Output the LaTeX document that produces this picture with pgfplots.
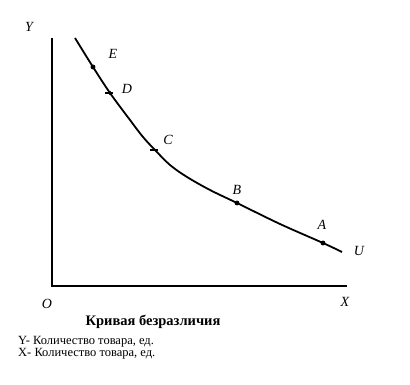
\documentclass[border=0pt]{standalone}
\usepackage{fontspec}
\setmainfont{Liberation Serif}
\usepackage{pgfplots}
\pgfplotsset{compat=1.18}

\begin{document}
\begin{tikzpicture}
\begin{axis}[
  x=1pt, y=1pt,
  xmin=0, xmax=410, ymin=0, ymax=385,
  hide axis, clip=false,
  scale only axis,
]
% page frame
\path (axis cs:0,0) rectangle (axis cs:410,385);

% axes O-Y and O-X
\addplot[black, line width=1.6pt, line join=miter] coordinates {(52,347) (52,99) (347,99)};

% indifference curve U
\addplot[black, line width=1.8pt, smooth, tension=0.55] coordinates {
  (75,347) (93,318) (110,292) (130,265) (143,248) (155,235) (170,220)
  (187,208) (210,195) (237,182) (280,161) (323,142) (342,133)};

% bundles on the curve
\addplot[only marks, mark=*, mark size=2.2pt, black] coordinates {
  (93,318) (237,182) (323,142)};
\addplot[only marks, mark=-, mark size=4pt, black, line width=2pt] coordinates {
  (109,292) (154,235)};
\addplot[only marks, mark=*, mark size=1.8pt, black] coordinates {(110,292)};

\begin{scope}[every node/.style={font=\fontsize{14}{16}\selectfont\itshape, inner sep=0pt}]
  \node at (axis cs:29,358) {Y};
  \node at (axis cs:113,331) {E};
  \node at (axis cs:127,296) {D};
  \node at (axis cs:168,245) {C};
  \node at (axis cs:237,195) {B};
  \node at (axis cs:322,160) {A};
  \node at (axis cs:359,134) {U};
  \node at (axis cs:345,83) {X};
  \node at (axis cs:47,81) {O};
\end{scope}

\node[anchor=base, inner sep=0pt, font=\fontsize{14.5}{16}\selectfont\bfseries]
  at (axis cs:153,59) {Кривая безразличия};
\node[anchor=base west, inner sep=0pt, font=\fontsize{12.5}{14}\selectfont]
  at (axis cs:18,40) {Y- Количество товара, ед.};
\node[anchor=base west, inner sep=0pt, font=\fontsize{12.5}{14}\selectfont]
  at (axis cs:18,28) {X- Количество товара, ед.};
\end{axis}
\end{tikzpicture}
\end{document}
